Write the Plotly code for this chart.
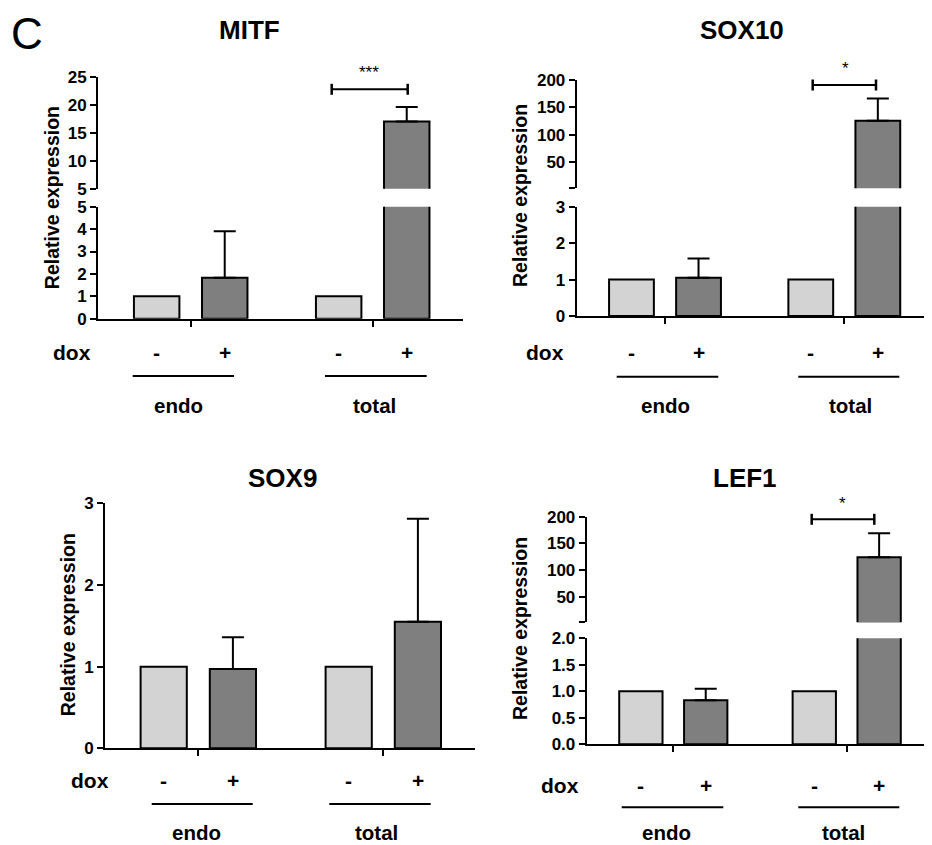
import plotly.graph_objects as go

W, H = 932, 845
OFF = 8  # the page body margin shifts the figure by this many pixels
FONT = "Liberation Sans, Arial, sans-serif"

# ---------------- data ----------------
genes = ["MITF", "SOX10", "SOX9", "LEF1"]
groups = ["endo", "total"]
dox_labels = ["-", "+"]

mitf_minus = [1.0, 1.0]
mitf_plus = [1.83, 17.0]
mitf_plus_err = [2.07, 2.6]

sox10_minus = [1.0, 1.0]
sox10_plus = [1.05, 125.8]
sox10_plus_err = [0.53, 40.4]

sox9_minus = [1.0, 1.0]
sox9_plus = [0.97, 1.55]
sox9_plus_err = [0.39, 1.26]

lef1_minus = [1.0, 1.0]
lef1_plus = [0.83, 124.0]
lef1_plus_err = [0.22, 45.0]

# axis ticks
mitf_low_ticks = [0, 1, 2, 3, 4, 5]
mitf_up_ticks = [5, 10, 15, 20, 25]
sox10_low_ticks = [0, 1, 2, 3]
sox10_up_ticks = [3, 50, 100, 150, 200]
sox10_up_text = ["", "50", "100", "150", "200"]
sox9_ticks = [0, 1, 2, 3]
lef1_low_ticks = [0, 0.5, 1.0, 1.5, 2.0]
lef1_low_text = ["0.0", "0.5", "1.0", "1.5", "2.0"]
lef1_up_ticks = [2, 50, 100, 150, 200]
lef1_up_text = ["", "50", "100", "150", "200"]

sig_labels = ["***", "*", None, "*"]

LIGHT = "#d3d3d3"
DARK = "#7f7f7f"


def px(x):
    return min(1.0, max(0.0, (x - OFF) / W))


def py(y):
    return min(1.0, max(0.0, 1 - (y - OFF) / H))


# panel geometry in pixels (screen coordinates)
panels = [
    dict(gene="MITF", minus=mitf_minus, plus=mitf_plus, err=mitf_plus_err,
         xl=98, xr=463, c0=190.7, c1=372.7,
         low=(206.7, 318.7), low_range=[0, 5], low_ticks=mitf_low_ticks, low_text=None,
         up=(76.7, 188.7), up_range=[5, 25], up_ticks=mitf_up_ticks, up_text=None,
         title=(249, 30), ytitle=(51.7, 197.5), dox=(71.7, 352.7), sign_y=352.7,
         lines=[(132.7, 234), (325, 426.7)], line_y=376, grp_y=405, grp_x=(178.3, 374.3),
         bracket=(331.7, 407.7, 89.3), star=(369, 73)),
    dict(gene="SOX10", minus=sox10_minus, plus=sox10_plus, err=sox10_plus_err,
         xl=576.7, xr=940, c0=665, c1=844.3,
         low=(206.7, 316), low_range=[0, 3], low_ticks=sox10_low_ticks, low_text=None,
         up=(80, 188.3), up_range=[3, 200], up_ticks=sox10_up_ticks, up_text=sox10_up_text,
         title=(741.7, 30), ytitle=(520, 196), dox=(545, 352.7), sign_y=352.7,
         lines=[(616.7, 718.3), (798.3, 899.3)], line_y=376.7, grp_y=405, grp_x=(665, 850),
         bracket=(812.7, 876, 85), star=(845.7, 69)),
    dict(gene="SOX9", minus=sox9_minus, plus=sox9_plus, err=sox9_plus_err,
         xl=105, xr=475, c0=198.3, c1=383.3,
         low=(503.3, 748.3), low_range=[0, 3], low_ticks=sox9_ticks, low_text=None,
         up=None,
         title=(282.7, 478.3), ytitle=(68.3, 625), dox=(90, 780.7), sign_y=780.7,
         lines=[(151.7, 252.7), (329.3, 430.7)], line_y=804, grp_y=832, grp_x=(196.7, 376),
         bracket=None, star=None),
    dict(gene="LEF1", minus=lef1_minus, plus=lef1_plus, err=lef1_plus_err,
         xl=586.7, xr=940, c0=673.3, c1=846.7,
         low=(638.3, 744.3), low_range=[0, 2], low_ticks=lef1_low_ticks, low_text=lef1_low_text,
         up=(516.7, 622.3), up_range=[2, 200], up_ticks=lef1_up_ticks, up_text=lef1_up_text,
         title=(745, 478.3), ytitle=(520, 629), dox=(560, 785), sign_y=785,
         lines=[(621.7, 723.3), (798.3, 899.3)], line_y=807.3, grp_y=832, grp_x=(666.7, 843.3),
         bracket=(811.7, 874.3, 519.3), star=(842.3, 503)),
]

fig = go.Figure()
layout = {}
annotations = []
shapes = []

tickfont = dict(family=FONT, size=17, color="black", weight="bold")
axis_n = 0


def axname(n, letter):
    return f"{letter}axis" if n == 1 else f"{letter}axis{n}"


def ref(n, letter):
    return letter if n == 1 else f"{letter}{n}"


def ann(x, y, text, size, bold=True, angle=0):
    annotations.append(dict(x=px(x), y=py(y), xref="paper", yref="paper", text=text,
                            showarrow=False, xanchor="center", yanchor="middle",
                            textangle=angle, borderpad=0,
                            font=dict(family=FONT, size=size, color="black",
                                      weight="bold" if bold else "normal")))


for p in panels:
    unit = p["c1"] - p["c0"]
    xr = [(p["xl"] - p["c0"]) / unit, (p["xr"] - p["c0"]) / unit]
    xdom = [px(p["xl"]), px(p["xr"])]
    segs = [("low", p["low"], p["low_range"], p["low_ticks"], p["low_text"])]
    if p["up"] is not None:
        segs.append(("up", p["up"], p["up_range"], p["up_ticks"], p["up_text"]))
    for kind, (ytop, ybot), yrange, ticks, ticktext in segs:
        axis_n += 1
        n = axis_n
        xa = dict(domain=xdom, range=xr, anchor=ref(n, "y"), showgrid=False, zeroline=False,
                  fixedrange=True, type="category", categoryorder="array",
                  categoryarray=groups, automargin=False)
        if kind == "low":
            xa.update(showline=True, linecolor="black", linewidth=2, ticks="outside",
                      ticklen=6, tickwidth=2, tickcolor="black", showticklabels=False)
        else:
            xa.update(visible=False)
        ya = dict(domain=[py(ybot), py(ytop)], range=yrange, anchor=ref(n, "x"),
                  showgrid=False, zeroline=False, showline=True, linecolor="black",
                  linewidth=2, ticks="outside", ticklen=6, tickwidth=2, tickcolor="black",
                  tickmode="array", tickvals=ticks, tickfont=tickfont, ticklabelstandoff=0,
                  automargin=False, fixedrange=True)
        if ticktext is not None:
            ya["ticktext"] = ticktext
        layout[axname(n, "x")] = xa
        layout[axname(n, "y")] = ya
        lo = yrange[0]
        if kind == "up":
            # only bars that reach above the axis break appear in the upper segment
            y_minus = [v if v > lo else None for v in p["minus"]]
            y_plus = [v if v > lo else None for v in p["plus"]]
        else:
            y_minus = list(p["minus"])
            y_plus = list(p["plus"])
        fig.add_trace(go.Bar(x=groups, y=y_minus, xaxis=ref(n, "x"), yaxis=ref(n, "y"),
                             marker=dict(color=LIGHT, line=dict(color="black", width=2)),
                             showlegend=False, name="dox -"))
        fig.add_trace(go.Bar(x=groups, y=y_plus, xaxis=ref(n, "x"), yaxis=ref(n, "y"),
                             marker=dict(color=DARK, line=dict(color="black", width=2)),
                             error_y=dict(type="data", symmetric=False, array=p["err"],
                                          arrayminus=[0] * len(p["err"]), color="black",
                                          thickness=2, width=11),
                             showlegend=False, name="dox +"))

    ann(p["title"][0], p["title"][1], p["gene"], 26)
    ann(p["ytitle"][0], p["ytitle"][1], "Relative expression", 19.5, angle=-90)
    ann(p["dox"][0], p["dox"][1], "dox", 21)
    off = 0.187 * unit
    for gi, c in enumerate([p["c0"], p["c1"]]):
        for di, d in enumerate(dox_labels):
            ann(c + (di * 2 - 1) * off, p["sign_y"], d, 21)
        x0, x1 = p["lines"][gi]
        shapes.append(dict(type="line", xref="paper", yref="paper", x0=px(x0), x1=px(x1),
                           y0=py(p["line_y"]), y1=py(p["line_y"]),
                           line=dict(color="black", width=2)))
        ann(p["grp_x"][gi], p["grp_y"], groups[gi], 20.5)
    if p["bracket"] is not None:
        bx0, bx1, by = p["bracket"]
        shapes.append(dict(type="line", xref="paper", yref="paper", x0=px(bx0), x1=px(bx1),
                           y0=py(by), y1=py(by), line=dict(color="black", width=2)))
        for bx in (bx0, bx1):
            shapes.append(dict(type="line", xref="paper", yref="paper", x0=px(bx), x1=px(bx),
                               y0=py(by - 5.5), y1=py(by + 5.5),
                               line=dict(color="black", width=2.5)))
        gi = genes.index(p["gene"])
        ann(p["star"][0], p["star"][1], sig_labels[gi], 17, bold=False)

# panel letter
annotations.append(dict(x=px(27), y=py(33.5), xref="paper", yref="paper", text="C",
                        showarrow=False, xanchor="center", yanchor="middle", borderpad=0,
                        font=dict(family=FONT, size=44, color="black")))

fig.update_layout(**layout)
fig.update_layout(width=W, height=H, margin=dict(l=0, r=0, t=0, b=0, pad=0, autoexpand=False),
                  paper_bgcolor="white", plot_bgcolor="rgba(0,0,0,0)",
                  barmode="group", bargap=0.252, bargroupgap=0.332,
                  annotations=annotations, shapes=shapes, showlegend=False)

fig.write_html("out.html")
